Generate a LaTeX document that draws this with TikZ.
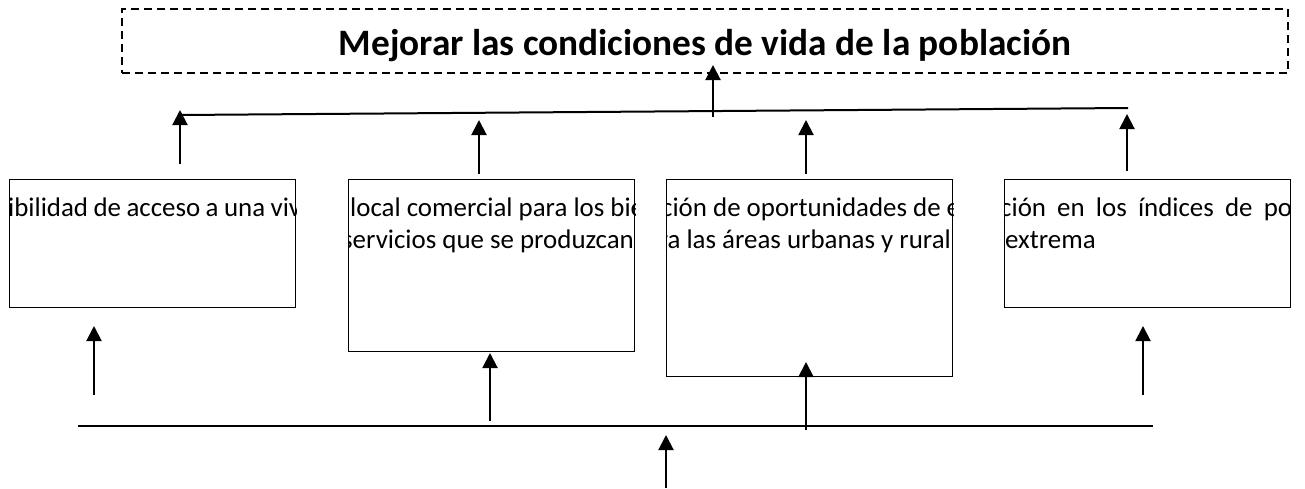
\documentclass[tikz,border=0pt]{standalone}
\usepackage{fontspec}
\setmainfont{Carlito}
\usetikzlibrary{arrows.meta, positioning}

\begin{document}
\begin{tikzpicture}[
  x=1pt, y=-1pt,
  goal/.style={rectangle, draw, dash pattern=on 8pt off 5pt, line width=1.6pt, minimum width=1166pt, minimum height=64pt, inner sep=0pt, text height=32pt, text depth=4pt, font=\fontsize{37.3}{44}\selectfont\bfseries},
  effect/.style={rectangle, draw, line width=1.4pt, minimum width=286pt, inner sep=0pt, anchor=north west},
  efftext/.style={inner sep=0pt, anchor=base west, font=\fontsize{26.9}{32}\selectfont},
  arrow/.style={-{Triangle[length=15pt, width=15pt]}, line width=2pt},
  bar/.style={line width=2pt}
]
  \path[use as bounding box, fill=white] (0,0) rectangle (1305,488);

  % fin
  \node[goal] (goal) at (705,41) {Mejorar las condiciones de vida de la población};

  % efectos
  \node[effect, minimum height=128pt] (e1) at (9,179) {};
  \node[effect, minimum height=172pt] (e2) at (348,179) {};
  \node[effect, minimum height=197pt] (e3) at (666,179) {};
  \node[effect, minimum height=128pt] (e4) at (1004,179) {};

  \begin{scope}
    \clip (e1.north west) rectangle (e1.south east);
    \node[efftext] (t1) at (8,216) {\makebox[293pt][s]{ibilidad de acceso a una viv}};
  \end{scope}
  \begin{scope}
    \clip (e2.north west) rectangle (e2.south east);
    \node[efftext] (t2a) at (350,216) {local comercial para los bie};
    \node[efftext] (t2b) at (342,248) {servicios que se produzcan};
  \end{scope}
  \begin{scope}
    \clip (e3.north west) rectangle (e3.south east);
    \node[efftext] (t3a) at (661,216) {ción de oportunidades de e};
    \node[efftext, anchor=base east] (t3b) at (951,248) {ra las áreas urbanas y rural};
  \end{scope}
  \begin{scope}
    \clip (e4.north west) rectangle (e4.south east);
    \node[efftext] (t4a) at (1000,216) {\makebox[292pt][s]{ción en los índices de po}};
    \node[efftext] (t4b) at (1005,248) {extrema};
  \end{scope}

  % barra superior
  \coordinate (topL) at (180,115);
  \coordinate (topR) at (1128,108);
  \draw[bar] (topL) -- (topR);
  \coordinate (goalin) at (713,117);
  \coordinate (goaltip) at (713,65);
  \draw[arrow] (goalin) -- (goaltip);

  \coordinate (up1) at (180,164);
  \coordinate (up2) at (479,174);
  \coordinate (up2t) at (479,120);
  \coordinate (up3) at (806,174);
  \coordinate (up3t) at (806,120);
  \coordinate (up4) at (1127,171);
  \coordinate (up4t) at (1127,114);
  \draw[arrow] (up1) -- (180,110);
  \draw[arrow] (up2) -- (up2t);
  \draw[arrow] (up3) -- (up3t);
  \draw[arrow] (up4) -- (up4t);

  % barra inferior
  \coordinate (botL) at (78,426);
  \coordinate (botR) at (1153,426);
  \draw[bar] (botL) -- (botR);

  \coordinate (in1) at (94,395);
  \coordinate (in1t) at (94,326);
  \coordinate (in2) at (490,421);
  \coordinate (in2t) at (490,353);
  \coordinate (in3) at (806,430);
  \coordinate (in3t) at (806,362);
  \coordinate (in4) at (1143,395);
  \coordinate (in4t) at (1143,326);
  \draw[arrow] (in1) -- (in1t);
  \draw[arrow] (in2) -- (in2t);
  \draw[arrow] (in3) -- (in3t);
  \draw[arrow] (in4) -- (in4t);

  \coordinate (root) at (666,488);
  \coordinate (roott) at (666,435);
  \draw[arrow] (root) -- (roott);
\end{tikzpicture}
\end{document}
